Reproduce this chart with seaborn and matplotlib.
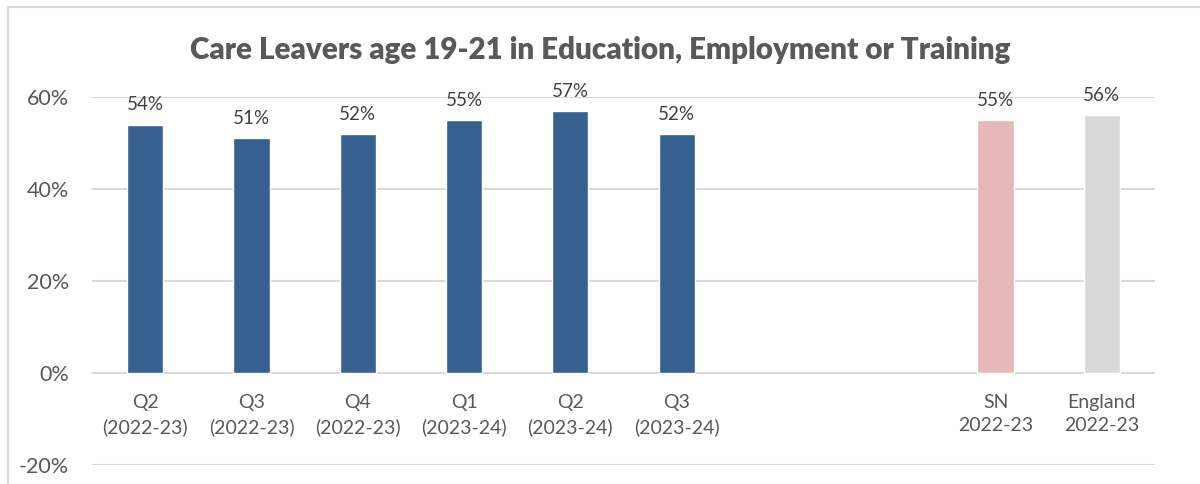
import matplotlib
matplotlib.use("Agg")
import matplotlib.pyplot as plt
import seaborn as sns
import pandas as pd
import numpy as np
from matplotlib.patches import Rectangle
from matplotlib.ticker import FuncFormatter

# Quarterly figures plus the comparator values
categories = ["Q2\n(2022-23)", "Q3\n(2022-23)", "Q4\n(2022-23)", "Q1\n(2023-24)",
              "Q2\n(2023-24)", "Q3\n(2023-24)", " ", "  ", "SN\n2022-23", "England\n2022-23"]
values = [54, 51, 52, 55, 57, 52, np.nan, np.nan, 55, 56]
bar_colors = ["#35608F"] * 6 + ["#FFFFFF", "#FFFFFF"] + ["#E6B8B7", "#D9D9D9"]
y_ticks = [-20, 0, 20, 40, 60]

sns.set_theme(style="white")
plt.rcParams["font.family"] = ["Lato", "DejaVu Sans"]

df = pd.DataFrame({"category": categories, "value": values})

fig = plt.figure(figsize=(12, 4.84), dpi=100)
ax = fig.add_axes([92 / 1200, 1 - 465 / 484, (1155 - 92) / 1200, (465 - 97) / 484])

sns.barplot(data=df, x="category", y="value", hue="category", order=categories,
            palette=dict(zip(categories, bar_colors)), legend=False,
            width=0.34, ax=ax, saturation=1)

ax.set_ylim(-20, 60)
ax.set_yticks(y_ticks)
ax.yaxis.set_major_formatter(FuncFormatter(lambda v, _: f"{v:.0f}%"))
ax.grid(axis="y", color="#D9D9D9", linewidth=1.5)
ax.set_axisbelow(True)
for s in ax.spines.values():
    s.set_visible(False)
ax.set_xlabel("")
ax.set_ylabel("")
ax.tick_params(axis="y", labelsize=15.5, colors="#595959", length=0, pad=16.5)

# Category labels sit just under the zero line
ax.set_xticks(range(len(categories)))
ax.set_xticklabels([])
ax.tick_params(axis="x", length=0)
for i, c in enumerate(categories):
    ax.text(i, -4.6, c, ha="center", va="top", fontsize=14,
            color="#595959", linespacing=1.45)

for container in ax.containers:
    labels = [f"{v:.0f}%" if not np.isnan(v) else "" for v in container.datavalues]
    ax.bar_label(container, labels=labels, padding=8, fontsize=13.5, color="#404040")

fig.text(0.5, 1 - 50 / 484, "Care Leavers age 19-21 in Education, Employment or Training",
         ha="center", va="center", fontsize=21.3, fontweight="heavy", color="#595959")

fig.patches.append(Rectangle((8 / 1200, -0.1), 1.2, 1 - 7 / 484 + 0.1,
                             transform=fig.transFigure, fill=False,
                             edgecolor="#D9D9D9", linewidth=1.5))

fig.savefig("out.png", dpi=100)
